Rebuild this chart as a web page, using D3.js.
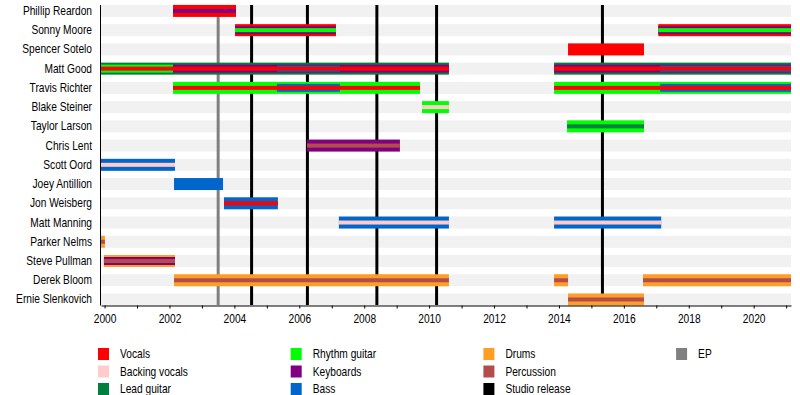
<!DOCTYPE html>
<meta charset="utf-8">
<script src="https://d3js.org/d3.v7.min.js"></script>
<style>
  body { margin: 0; background: #fff; }
  text { font-family: "Liberation Sans", Arial, sans-serif; font-size: 12px; fill: #000; }
</style>
<div id="my_dataviz"></div>
<script>

// members, top to bottom
var members = ["Phillip Reardon", "Sonny Moore", "Spencer Sotelo", "Matt Good", "Travis Richter",
  "Blake Steiner", "Taylor Larson", "Chris Lent", "Scott Oord", "Joey Antillion", "Jon Weisberg",
  "Matt Manning", "Parker Nelms", "Steve Pullman", "Derek Bloom", "Ernie Slenkovich"];

var roles = ["Vocals", "Backing vocals", "Lead guitar", "Rhythm guitar", "Keyboards", "Bass",
  "Drums", "Percussion", "Studio release", "EP"];
var roleColors = ["#ff0000", "#ffcccc", "#00803f", "#00ff00", "#800080", "#0066cc",
  "#ff9e24", "#b34d4d", "#000000", "#808080"];

var periodStart = 1999.89, periodEnd = 2021.15;

// [member, role, from, to] - main role (full bar)
var mainRoles = [
  ["Phillip Reardon", "Vocals", 2002.11, 2004.05],
  ["Sonny Moore", "Vocals", 2004.02, 2007.13],
  ["Sonny Moore", "Vocals", 2017.06, 2021.15],
  ["Spencer Sotelo", "Vocals", 2014.28, 2016.62],
  ["Matt Good", "Lead guitar", 1999.89, 2010.61],
  ["Matt Good", "Lead guitar", 2013.85, 2021.15],
  ["Travis Richter", "Rhythm guitar", 2002.11, 2009.72],
  ["Travis Richter", "Rhythm guitar", 2013.85, 2021.15],
  ["Blake Steiner", "Rhythm guitar", 2009.78, 2010.61],
  ["Taylor Larson", "Rhythm guitar", 2014.25, 2016.62],
  ["Chris Lent", "Keyboards", 2006.24, 2009.10],
  ["Scott Oord", "Bass", 1999.89, 2002.17],
  ["Joey Antillion", "Bass", 2002.14, 2003.65],
  ["Jon Weisberg", "Bass", 2003.68, 2005.34],
  ["Matt Manning", "Bass", 2007.22, 2010.61],
  ["Matt Manning", "Bass", 2013.85, 2017.15],
  ["Parker Nelms", "Drums", 1999.89, 2000.01],
  ["Steve Pullman", "Drums", 1999.98, 2002.17],
  ["Derek Bloom", "Drums", 2002.14, 2010.61],
  ["Derek Bloom", "Drums", 2013.85, 2014.28],
  ["Derek Bloom", "Drums", 2016.59, 2021.15],
  ["Ernie Slenkovich", "Drums", 2014.28, 2016.62]
];

// second role
var secondRoles = [
  ["Sonny Moore", "Keyboards", 2004.02, 2007.13],
  ["Sonny Moore", "Keyboards", 2017.06, 2021.15],
  ["Matt Good", "Rhythm guitar", 1999.89, 2002.11],
  ["Matt Good", "Keyboards", 2002.11, 2010.61],
  ["Matt Good", "Keyboards", 2013.85, 2021.15],
  ["Travis Richter", "Bass", 2005.31, 2007.25],
  ["Travis Richter", "Bass", 2017.12, 2021.15],
  ["Steve Pullman", "Keyboards", 1999.98, 2002.17]
];

// third role
var thirdRoles = [
  ["Matt Good", "Bass", 2005.31, 2007.25],
  ["Matt Good", "Bass", 2017.12, 2021.15]
];

// inner stripe
var innerRoles = [
  ["Phillip Reardon", "Keyboards", 2002.11, 2004.05],
  ["Sonny Moore", "Rhythm guitar", 2004.02, 2007.13],
  ["Sonny Moore", "Rhythm guitar", 2017.06, 2021.15],
  ["Matt Good", "Vocals", 1999.89, 2010.61],
  ["Matt Good", "Vocals", 2013.85, 2021.15],
  ["Travis Richter", "Vocals", 2002.11, 2009.72],
  ["Travis Richter", "Vocals", 2013.85, 2021.15],
  ["Blake Steiner", "Backing vocals", 2009.78, 2010.61],
  ["Taylor Larson", "Lead guitar", 2014.25, 2016.62],
  ["Chris Lent", "Percussion", 2006.24, 2009.10],
  ["Scott Oord", "Backing vocals", 1999.89, 2002.17],
  ["Jon Weisberg", "Vocals", 2003.68, 2005.34],
  ["Matt Manning", "Backing vocals", 2007.22, 2010.61],
  ["Matt Manning", "Backing vocals", 2013.85, 2017.15],
  ["Parker Nelms", "Percussion", 1999.89, 2000.01],
  ["Steve Pullman", "Percussion", 1999.98, 2002.17],
  ["Derek Bloom", "Percussion", 2002.14, 2010.61],
  ["Derek Bloom", "Percussion", 2013.85, 2014.28],
  ["Derek Bloom", "Percussion", 2016.59, 2021.15],
  ["Ernie Slenkovich", "Percussion", 2014.28, 2016.62]
];

var epReleases = [2003.5];
var studioReleases = [2004.53, 2006.25, 2008.39, 2010.23, 2015.34];
var years = d3.range(2000, 2022);

// dimensions
var width = 800, height = 395;
var svg = d3.select("#my_dataviz")
  .append("svg")
    .attr("width", width)
    .attr("height", height);

var x = d3.scaleLinear().domain([periodStart, periodEnd]).range([101, 791]);
var y = d3.scaleBand().domain(members).range([1.3, 309.1]);
var color = d3.scaleOrdinal().domain(roles).range(roleColors);
var barH = 12;

// background bands
svg.append("g").selectAll("rect")
  .data(members)
  .join("rect")
    .attr("x", x(periodStart))
    .attr("width", x(periodEnd) - x(periodStart))
    .attr("y", function(d) { return y(d) + y.bandwidth() / 2 - barH / 2; })
    .attr("height", barH)
    .attr("fill", "#f1f1f1");

// release lines
svg.append("g").selectAll("line")
  .data(epReleases.map(function(d) { return [d, "EP"]; })
    .concat(studioReleases.map(function(d) { return [d, "Studio release"]; })))
  .join("line")
    .attr("x1", function(d) { return x(d[0]); })
    .attr("x2", function(d) { return x(d[0]); })
    .attr("y1", 5)
    .attr("y2", 305)
    .attr("stroke", function(d) { return color(d[1]); })
    .attr("stroke-width", 3);

// bars, layer by layer
function drawLayer(data, h) {
  svg.append("g").selectAll("rect")
    .data(data)
    .join("rect")
      .attr("x", function(d) { return x(d[2]); })
      .attr("width", function(d) { return x(d[3]) - x(d[2]); })
      .attr("y", function(d) { return y(d[0]) + y.bandwidth() / 2 - h / 2; })
      .attr("height", h)
      .attr("fill", function(d) { return color(d[1]); });
}
drawLayer(mainRoles, 12);
drawLayer(secondRoles, 8);
drawLayer(thirdRoles, 6);
drawLayer(innerRoles, 4);

// member names
svg.append("g").selectAll("text")
  .data(members)
  .join("text")
    .attr("transform", function(d) { return "translate(92," + (y(d) + y.bandwidth() / 2 + 4) + ") scale(0.85,1)"; })
    .attr("text-anchor", "end")
    .text(function(d) { return d; });

// left axis line
svg.append("line")
  .attr("x1", 100.5).attr("x2", 100.5)
  .attr("y1", 5).attr("y2", 305.5)
  .attr("stroke", "#000");

// x axis
var xAxis = svg.append("g")
  .attr("transform", "translate(0,305.5)")
  .call(d3.axisBottom(x)
    .tickValues(years)
    .tickSize(3)
    .tickSizeOuter(0)
    .tickFormat(function(d) { return d % 2 === 0 ? d : ""; }));
xAxis.select(".domain").attr("stroke", "#000");
xAxis.selectAll("text")
  .attr("y", 9)
  .attr("dy", "0.71em")
  .attr("transform", "scale(0.85,1)")
  .style("font-family", "'Liberation Sans', Arial, sans-serif")
  .style("font-size", "12px");

// legend
var legendCols = [
  ["Vocals", "Backing vocals", "Lead guitar"],
  ["Rhythm guitar", "Keyboards", "Bass"],
  ["Drums", "Percussion", "Studio release"],
  ["EP"]
];
var legend = svg.append("g");
legendCols.forEach(function(col, i) {
  col.forEach(function(name, j) {
    var lx = 98 + i * 192.7, ly = 354 + j * 17.5;
    legend.append("rect")
      .attr("x", lx).attr("y", ly - 6)
      .attr("width", 11).attr("height", 12)
      .attr("fill", color(name));
    legend.append("text")
      .attr("transform", "translate(" + (lx + 22) + "," + (ly + 4) + ") scale(0.85,1)")
      .text(name);
  });
});

</script>
